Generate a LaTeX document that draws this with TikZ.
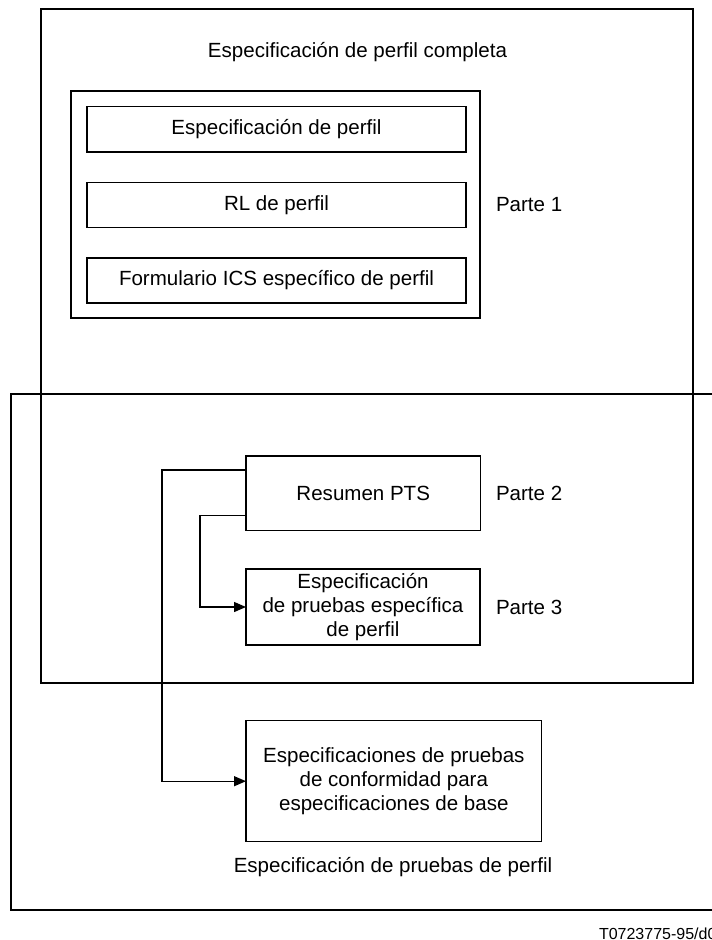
\documentclass[tikz,border=0pt]{standalone}
\usepackage{fontspec}
\setmainfont{Liberation Sans}
\usetikzlibrary{arrows.meta,calc}
\begin{document}
\begin{tikzpicture}[x=0.75pt,y=-0.75pt,
  every node/.style={font=\fontsize{15.4}{17.8}\selectfont},
  box/.style={draw,line width=1pt,inner sep=0pt,outer sep=0pt,align=center},
  lbl/.style={inner sep=0pt,outer sep=0pt},
  arr/.style={line width=1pt,-{Triangle[length=9pt,width=7.5pt]}},
  conn/.style={line width=1pt}]
\useasboundingbox (0,0) rectangle (712,940);
% outer frames
\node[box,minimum width=652*0.75pt,minimum height=674*0.75pt] (outerA) at (367,346) {};
\node[box,minimum width=749*0.75pt,minimum height=516*0.75pt] (outerB) at (385.5,652) {};
% group with three boxes
\node[box,minimum width=409*0.75pt,minimum height=227*0.75pt] (group) at (275.5,204.5) {};
\node[box,minimum width=379*0.75pt,minimum height=45.5*0.75pt] (b1) at (276.5,129.25) {Especificación de perfil};
\node[box,minimum width=379*0.75pt,minimum height=45*0.75pt] (b2) at (276.5,205) {RL de perfil};
\node[box,minimum width=379*0.75pt,minimum height=45*0.75pt] (b3) at (276.5,280.5) {Formulario ICS específico de perfil};
% PTS boxes
\node[box,minimum width=234.5*0.75pt,minimum height=74.5*0.75pt] (pts) at (363.25,493.25) {Resumen PTS};
\node[box,minimum width=234*0.75pt,minimum height=76*0.75pt] (ept) at (363,607) {Especificación\\de pruebas específica\\de perfil};
\node[box,minimum width=295.7*0.75pt,minimum height=121*0.75pt] (conf) at (393.85,781.2) {Especificaciones de pruebas\\de conformidad para\\especificaciones de base};
% labels
\node[lbl] (title) at (357.5,52) {Especificación de perfil completa};
\node[lbl,anchor=west] (p1) at (496,205) {Parte 1};
\node[lbl,anchor=west] (p2) at (496,493) {Parte 2};
\node[lbl,anchor=west] (p3) at (496,607) {Parte 3};
\node[lbl] (bottom) at (393,867) {Especificación de pruebas de perfil};
\node[lbl,anchor=base west,font=\fontsize{12}{13}\selectfont] (code) at (599,939.5) {T0723775-95/d0};
% connectors
\draw[arr] ([yshift=11.25pt]pts.south west) -- ++(-46,0) |- (ept.west);
\draw[arr] ([yshift=-10.5pt]pts.north west) -- ++(-84,0) |- (conf.west);
\end{tikzpicture}
\end{document}
